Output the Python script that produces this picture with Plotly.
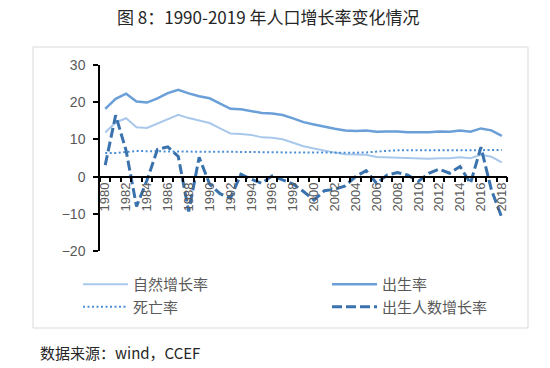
import plotly.graph_objects as go

years = list(range(1980, 2019))

natural_growth = [11.87, 14.55, 15.68, 13.29, 13.08, 14.26, 15.57, 16.61, 15.73, 15.04,
                  14.39, 12.98, 11.60, 11.45, 11.21, 10.55, 10.42, 10.06, 9.14, 8.18,
                  7.58, 6.95, 6.45, 6.01, 5.87, 5.89, 5.28, 5.17, 5.08, 4.87,
                  4.79, 4.79, 4.95, 4.92, 5.21, 4.96, 5.86, 5.32, 3.81]
birth_rate = [18.21, 20.91, 22.28, 20.19, 19.90, 21.04, 22.43, 23.33, 22.37, 21.58,
              21.06, 19.68, 18.24, 18.09, 17.70, 17.12, 16.98, 16.57, 15.64, 14.64,
              14.03, 13.38, 12.86, 12.41, 12.29, 12.40, 12.09, 12.10, 12.14, 11.95,
              11.90, 11.93, 12.10, 12.08, 12.37, 12.07, 12.95, 12.43, 10.94]
death_rate = [6.34, 6.36, 6.60, 6.90, 6.82, 6.78, 6.86, 6.72, 6.64, 6.54,
              6.67, 6.70, 6.64, 6.64, 6.49, 6.57, 6.56, 6.51, 6.50, 6.46,
              6.45, 6.43, 6.41, 6.40, 6.42, 6.51, 6.81, 6.93, 7.06, 7.08,
              7.11, 7.14, 7.15, 7.16, 7.16, 7.11, 7.09, 7.11, 7.13]
births_growth = [3.1, 16.5, 7.0, -8.0, -1.0, 7.3, 8.0, 5.4, -9.4, 5.2,
                 -2.0, -4.6, -5.8, 0.6, -0.7, -1.8, 0.2, -0.9, -2.0, -4.0,
                 -6.3, -3.8, -3.4, -2.5, 0.0, 1.6, -1.8, 0.4, 1.1, 0.4,
                 -1.3, 0.9, 2.0, 0.9, 2.7, -1.8, 7.9, -3.5, -11.0]

x_labels = [str(y) for y in range(1980, 2019, 2)]
y_ticks = [-20, -10, 0, 10, 20, 30]

title_text = "图 8：1990-2019 年人口增长率变化情况"
source_text = "数据来源：wind，CCEF"

font_fam = "Noto Sans CJK SC, Liberation Sans, sans-serif"
gray = "#595959"

fig = go.Figure()
fig.add_trace(go.Scatter(x=years, y=natural_growth, name="自然增长率", mode="lines",
                         line=dict(color="#a9c8eb", width=2)))
fig.add_trace(go.Scatter(x=years, y=birth_rate, name="出生率", mode="lines",
                         line=dict(color="#6a9fd8", width=2.5)))
fig.add_trace(go.Scatter(x=years, y=death_rate, name="死亡率", mode="lines",
                         line=dict(color="#4a8fd6", width=2, dash="2px,2.5px")))
fig.add_trace(go.Scatter(x=years, y=births_growth, name="出生人数增长率", mode="lines",
                         line=dict(color="#3a72ad", width=3, dash="10px,4px")))

L, R, T, B = 100, 43, 65, 117
W, H = 550, 368
pw, ph = W - L - R, H - T - B

def px_x(p):
    return (p - L) / pw

def px_y(p):
    return (H - B - p) / ph

fig.update_layout(
    width=W, height=H,
    margin=dict(l=L, r=R, t=T, b=B, pad=0, autoexpand=False),
    paper_bgcolor="white", plot_bgcolor="white",
    font=dict(family=font_fam, color=gray, size=12),
    showlegend=True,
    legend=dict(orientation="h", x=px_x(78), xanchor="left", y=px_y(268), yanchor="top",
                entrywidth=189, entrywidthmode="pixels", itemwidth=45,
                font=dict(size=15, color=gray, family=font_fam),
                tracegroupgap=0, bgcolor="rgba(0,0,0,0)"),
    xaxis=dict(range=[1979.5, 2018.5], tickmode="array", tickvals=list(range(1980, 2019, 2)),
               ticktext=x_labels, tickangle=-90, ticks="", showgrid=False, zeroline=False,
               showline=True, linecolor="black", linewidth=1.5,
               anchor="free", position=0.4,
               tickfont=dict(size=13, color=gray, family="Liberation Sans, sans-serif"),
               minor=dict(ticks="outside", tick0=1979.5, dtick=1, ticklen=5,
                          tickcolor="black", tickwidth=1.5, showgrid=False)),
    yaxis=dict(range=[-20, 30], tickmode="array", tickvals=y_ticks, ticks="outside",
               ticklen=5, tickcolor="black", tickwidth=1.5,
               showline=True, linecolor="black", linewidth=1.5,
               showgrid=False, zeroline=False,
               tickfont=dict(size=14, color=gray, family="Liberation Sans, sans-serif"),
               ticklabelstandoff=5),
    shapes=[dict(type="rect", xref="paper", yref="paper",
                 x0=px_x(33), x1=px_x(528), y0=px_y(328), y1=px_y(47),
                 line=dict(color="#d9d9d9", width=1), fillcolor="rgba(0,0,0,0)", layer="below")],
    annotations=[
        dict(text=title_text, xref="paper", yref="paper", x=px_x(268), y=px_y(16),
             xanchor="center", yanchor="middle", showarrow=False,
             font=dict(size=17, color="#262626", family=font_fam)),
        dict(text=source_text, xref="paper", yref="paper", x=px_x(38), y=px_y(352),
             xanchor="left", yanchor="middle", showarrow=False,
             font=dict(size=15, color="#262626", family=font_fam)),
    ],
)

fig.write_html("out.html", config={"displayModeBar": False},
               post_script="document.body.style.margin='0';")
